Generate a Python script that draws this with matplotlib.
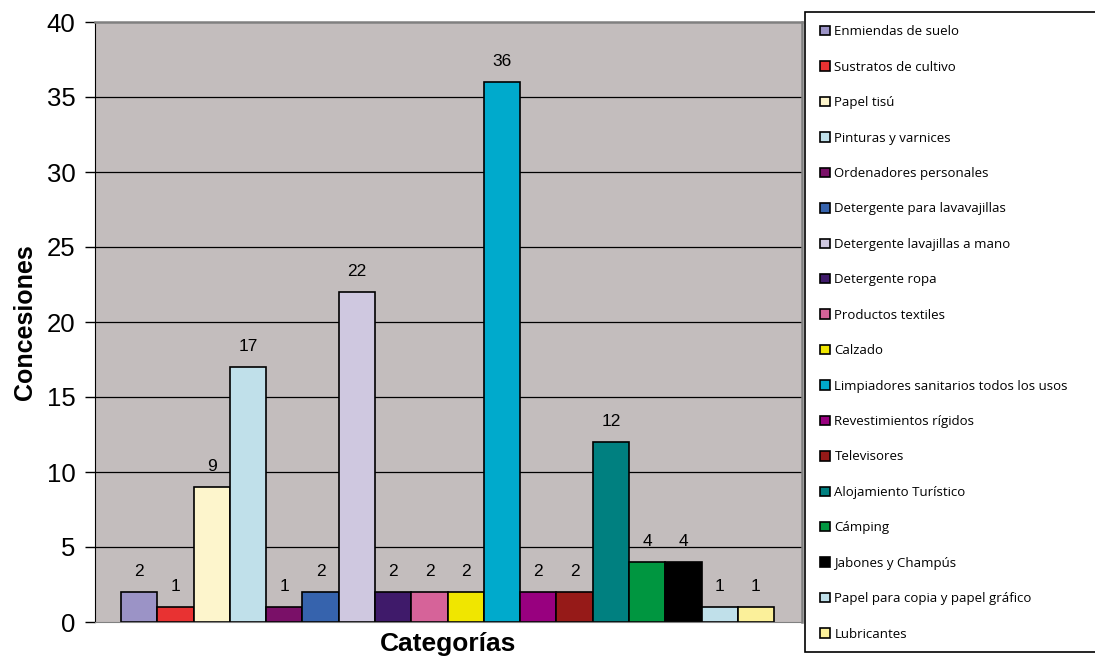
import matplotlib.pyplot as plt
from matplotlib.patches import Rectangle, Patch

# data
categorias = ["Enmiendas de suelo", "Sustratos de cultivo", "Papel tisú",
              "Pinturas y varnices", "Ordenadores personales",
              "Detergente para lavavajillas", "Detergente lavajillas a mano",
              "Detergente ropa", "Productos textiles", "Calzado",
              "Limpiadores sanitarios todos los usos", "Revestimientos rígidos",
              "Televisores", "Alojamiento Turístico", "Cámping",
              "Jabones y Champús", "Papel para copia y papel gráfico",
              "Lubricantes"]
concesiones = [2, 1, 9, 17, 1, 2, 22, 2, 2, 2, 36, 2, 2, 12, 4, 4, 1, 1]
colores = ["#9b93c6", "#e83232", "#fdf5cc", "#c0e0ea", "#7a1068", "#3663ad",
           "#cfc8e0", "#3f1a6a", "#d66399", "#f0e600", "#00aacc", "#98007f",
           "#961a18", "#008080", "#009640", "#000000", "#c0e0ea", "#fbf09a"]

fig = plt.figure(figsize=(10.95, 6.58), dpi=100)
ax = fig.add_axes([95/1095, 36/658, 707/1095, 600/658])
ax.set_facecolor("#c3bdbd")

# horizontal gridlines
for y in range(5, 40, 5):
    ax.axhline(y, color="black", lw=0.9, zorder=1)

x = list(range(len(concesiones)))
bars = ax.bar(x, concesiones, width=1.0, color=colores, edgecolor="black",
              linewidth=1.2, zorder=2)
for xi, v in zip(x, concesiones):
    ax.annotate(str(v), (xi, v), xytext=(0, 15), textcoords="offset points",
                ha="center", va="center", fontsize=12.5,
                family="Liberation Sans")

ax.set_xlim(-1.22, 18.27)
ax.set_ylim(0, 40)
ax.set_yticks(range(0, 41, 5))
ax.set_xticks([])
ax.tick_params(axis="y", length=7, width=1, labelsize=18.5, pad=7)
for lab in ax.get_yticklabels():
    lab.set_family("Liberation Sans")

ax.spines["left"].set_color("black")
ax.spines["bottom"].set_color("#808080")
ax.spines["top"].set_color("#808080")
ax.spines["right"].set_color("#808080")
ax.spines["top"].set_linewidth(1.8)
ax.spines["right"].set_linewidth(1.8)

ax.set_ylabel("Concesiones", fontsize=18, fontweight="bold",
              family="Liberation Sans", labelpad=7)
ax.set_xlabel("Categorías", fontsize=19, fontweight="bold",
              family="Liberation Sans", labelpad=7)

# legend box
fig.patches.append(Rectangle((805/1095, 6/658), 300/1095, 640/658,
                             transform=fig.transFigure, facecolor="white",
                             edgecolor="black", lw=1.2))
handles = [Patch(facecolor=c, edgecolor="black", lw=1.2) for c in colores]
fig.legend(handles, categorias, loc="upper left",
           bbox_to_anchor=(815/1095, 1 - 20/658), frameon=False,
           prop={"family": "Open Sans", "size": 9.5},
           handlelength=0.72, handleheight=0.72, handletextpad=0.35,
           labelspacing=1.70, borderaxespad=0)

fig.savefig("out.png", dpi=100)
